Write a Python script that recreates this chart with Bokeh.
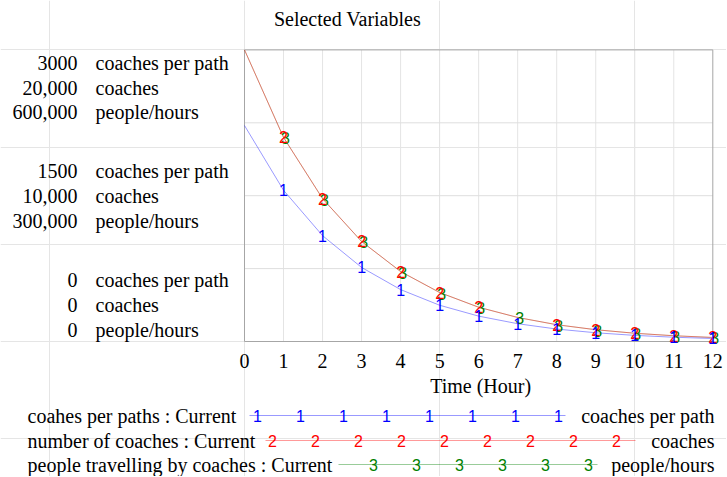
from bokeh.plotting import figure
from bokeh.models import Range1d
from bokeh.embed import file_html
from bokeh.resources import INLINE
from bokeh.core.properties import value

# ---------------- data ----------------
hours = [0, 1, 2, 3, 4, 5, 6, 7, 8, 9, 10, 11, 12]
coaches_per_path = [2222, 1556, 1089, 762, 534, 373, 261, 183, 128, 90, 63, 44, 31]
number_of_coaches = [20000, 14000, 9800, 6860, 4800, 3360, 2350, 1650, 1150, 810, 565, 395, 277]
people_travelling = [600000, 420000, 294000, 205800, 144000, 100800, 70600, 49400, 34600, 24200, 16950, 11860, 8300]

x_ticks = [0, 1, 2, 3, 4, 5, 6, 7, 8, 9, 10, 11, 12]
x_tick_labels = [str(t) for t in x_ticks]
path_ticks = [0, 1500, 3000]
path_tick_labels = ["0", "1500", "3000"]
coach_tick_labels = ["0", "10,000", "20,000"]
people_tick_labels = ["0", "300,000", "600,000"]
grid_ticks = [0, 750, 1500, 2250, 3000]
path_max, coach_max, people_max = 3000, 20000, 600000
units = ["coaches per path", "coaches", "people/hours"]
legend_names = ["coahes per paths : Current", "number of coaches : Current",
                "people travelling by coaches : Current"]
title_text = "Selected Variables"
x_label = "Time (Hour)"

# ---------------- layout (pixels) ----------------
PX_W, PX_H = 726, 476
L, R, T, B = 244.0, 712.3, 49.4, 341.0          # plot box on the canvas
SERIF = "Liberation Serif"
SANS = "Liberation Sans"
BLUE, RED, GREEN = "#0000ff", "#ff0000", "#008000"


def x_range_for(lo, hi):
    s = (hi - lo) / (R - L)
    return Range1d(lo - L * s, hi + (PX_W - R) * s)


def y_range_for(lo, hi):
    s = (hi - lo) / (B - T)
    return Range1d(lo - (PX_H - B) * s, hi + T * s)


p = figure(width=PX_W, height=PX_H, output_backend="svg", toolbar_location=None,
           x_range=x_range_for(x_ticks[0], x_ticks[-1]), y_range=y_range_for(0, path_max),
           x_axis_location=None, y_axis_location=None, min_border=0)
p.extra_y_ranges = {
    "coaches": y_range_for(0, coach_max),
    "people": y_range_for(0, people_max),
    "px": Range1d(PX_H, 0),
}
p.extra_x_ranges = {"px": Range1d(0, PX_W)}
p.outline_line_color = None
p.background_fill_color = "white"
p.border_fill_color = "white"

# grid
inner_x = x_ticks[1:-1]
p.segment(x0=inner_x, y0=[0] * len(inner_x), x1=inner_x, y1=[path_max] * len(inner_x),
          line_color="#e4e4e4", line_width=1)
inner_y = grid_ticks[1:-1]
p.segment(x0=[x_ticks[0]] * len(inner_y), y0=inner_y, x1=[x_ticks[-1]] * len(inner_y), y1=inner_y,
          line_color="#dedede", line_width=1)
# plot box
p.quad(left=[x_ticks[0]], right=[x_ticks[-1]], bottom=[0], top=[path_max],
       fill_color=None, line_color="#a6a6a6", line_width=1)

# series lines
p.line(hours, people_travelling, y_range_name="people", line_color=GREEN, line_alpha=0.25, line_width=1)
p.line(hours, number_of_coaches, y_range_name="coaches", line_color=RED, line_alpha=0.45, line_width=1)
p.line(hours, coaches_per_path, line_color=BLUE, line_alpha=0.4, line_width=1)

# series markers
mk = dict(text_font=value(SANS), text_font_size="16px", text_align="center", text_baseline="middle")
p.text(hours[1:], people_travelling[1:], text=["3"] * 12, y_range_name="people",
       text_color=GREEN, x_offset=2, y_offset=1, **mk)
red_idx = [i for i in range(1, 13) if i != 7]
p.text([hours[i] for i in red_idx], [number_of_coaches[i] for i in red_idx], text=["2"] * len(red_idx),
       y_range_name="coaches", text_color=RED, **mk)
p.text(hours[1:], coaches_per_path[1:], text=["1"] * 12, text_color=BLUE, **mk)

txt = dict(text_font=value(SERIF), text_font_size="20px", text_color="black", text_baseline="middle")

# x tick labels and axis label
p.text(x_ticks, [0] * len(x_ticks), text=x_tick_labels, text_align="center", y_offset=19, **txt)
p.text([(x_ticks[0] + x_ticks[-1]) / 2], [0], text=[x_label], text_align="center", x_offset=2, y_offset=44, **txt)

# title
p.text([347], [18], text=[title_text], text_align="center", x_range_name="px", y_range_name="px", **txt)

# left stacked tick labels
group_offsets = {0: [-62, -37, -12], 1500: [-25, 0, 25], 3000: [13, 38, 62]}
for i, t in enumerate(path_ticks):
    nums = [path_tick_labels[i], coach_tick_labels[i], people_tick_labels[i]]
    offs = group_offsets[t]
    p.text([x_ticks[0]] * 3, [t] * 3, text=nums, text_align="right", x_offset=-167, y_offset=offs, **txt)
    p.text([x_ticks[0]] * 3, [t] * 3, text=units, text_align="left", x_offset=-149, y_offset=offs, **txt)

# ---------------- legend (canvas pixel coordinates) ----------------
row_y = [415, 440, 464]
line_x0 = [249, 265, 338]
line_x1 = [565, 635, 597]
mark_x0 = [257, 272, 373]
mark_n = [8, 9, 6]
mark_step = 43
colors = [BLUE, RED, GREEN]
marks = ["1", "2", "3"]
for k in range(3):
    p.line([line_x0[k], line_x1[k]], [row_y[k], row_y[k]], line_color=colors[k], line_alpha=0.4,
           line_width=1, x_range_name="px", y_range_name="px")
    xs = [mark_x0[k] + mark_step * n for n in range(mark_n[k])]
    p.text(xs, [row_y[k]] * len(xs), text=[marks[k]] * len(xs), text_color=colors[k],
           x_range_name="px", y_range_name="px", **mk)
    p.text([27], [row_y[k]], text=[legend_names[k]], text_align="left",
           x_range_name="px", y_range_name="px", **txt)
    p.text([714], [row_y[k]], text=[units[k]], text_align="right",
           x_range_name="px", y_range_name="px", **txt)

open("out.html", "w").write(file_html(p, INLINE))
